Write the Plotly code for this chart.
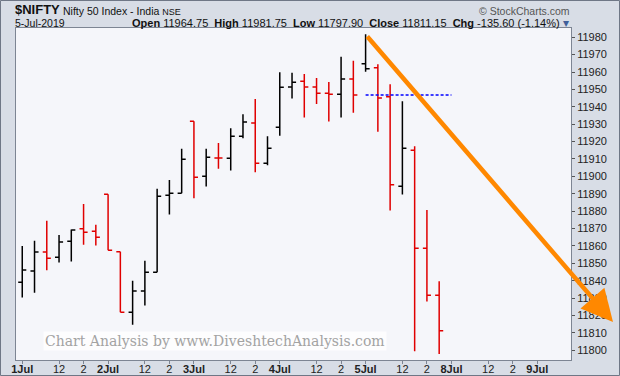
import plotly.graph_objects as go

# ---- data (hourly bars, NIFTY 1-5 Jul 2019) ----
days = ["1Jul", "2Jul", "3Jul", "4Jul", "5Jul", "8Jul", "9Jul"]
hours = ["09:15", "10:15", "11:15", "12:15", "13:15", "14:15", "15:15"]
hour_labels = {3: "12", 5: "2"}

opens = [11839.1, 11845.6, 11856.5, 11853.5, 11862.7, 11869.8, 11868.4,
         11889.7, 11856.7, 11821.9, 11834.1, 11844.9, 11889.1, 11890.3,
         11931.7, 11900.1, 11910.6, 11910.4, 11923.1, 11930.7, 11907.5,
         11928.2, 11951.4, 11954.7, 11951.4, 11947.8, 11947.2, 11956.0,
         11964.75, 11962.5, 11945.7, 11894.3, 11915.0, 11858.7, 11831.6]
highs = [11860.0, 11862.9, 11874.4, 11866.3, 11869.4, 11884.1, 11872.1,
         11889.7, 11856.7, 11839.9, 11851.4, 11892.8, 11897.9, 11915.8,
         11931.7, 11915.8, 11919.2, 11927.7, 11935.7, 11944.5, 11923.1,
         11959.9, 11959.5, 11958.9, 11956.6, 11954.3, 11968.7, 11966.4,
         11981.75, 11964.5, 11953.0, 11943.2, 11917.3, 11880.7, 11839.7]
lows = [11830.3, 11833.1, 11846.0, 11850.4, 11851.0, 11860.7, 11860.2,
        11857.5, 11821.9, 11814.6, 11825.7, 11844.9, 11878.0, 11890.3,
        11887.4, 11894.1, 11904.4, 11903.3, 11921.9, 11902.4, 11906.4,
        11923.4, 11944.7, 11933.8, 11941.6, 11931.5, 11933.8, 11936.6,
        11960.2, 11925.7, 11880.3, 11889.5, 11799.4, 11828.0, 11797.9]
closes = [11846.2, 11856.5, 11852.9, 11862.3, 11869.2, 11867.9, 11865.0,
          11857.5, 11821.9, 11834.1, 11844.9, 11888.6, 11890.3, 11909.8,
          11899.5, 11911.0, 11910.5, 11923.1, 11931.3, 11907.5, 11916.2,
          11951.2, 11954.1, 11951.4, 11947.8, 11947.2, 11956.0, 11946.75,
          11961.9, 11945.1, 11895.2, 11916.2, 11858.7, 11831.6, 11811.15]
prev_day_close = 11946.75

n = len(closes)
xs = list(range(n))
is_down = [False] + [closes[i] < closes[i - 1] for i in range(1, n)]

BLACK = "#000000"
RED = "#e00000"

fig = go.Figure()
for down, col in [(False, BLACK), (True, RED)]:
    idx = [i for i in xs if is_down[i] == down]
    fig.add_trace(go.Ohlc(
        x=idx,
        open=[opens[i] for i in idx], high=[highs[i] for i in idx],
        low=[lows[i] for i in idx], close=[closes[i] for i in idx],
        increasing=dict(line=dict(color=col, width=1.5)),
        decreasing=dict(line=dict(color=col, width=1.5)),
        tickwidth=0.33, showlegend=False, hoverinfo="skip",
    ))

# ticks
tickvals, ticktext = [], []
for d, name in enumerate(days):
    tickvals.append(d * 7)
    ticktext.append("<b>%s</b>" % name)
    for h, lab in hour_labels.items():
        tickvals.append(d * 7 + h)
        ticktext.append(lab)

W, H = 620, 376
L, R, T, B = 16, 49, 28, 16
pw, ph = W - L - R, H - T - B


def px(x):
    return (x - L) / pw


def py(y):
    return (H - B - y) / ph


FONT = "Liberation Sans, Arial, sans-serif"

fig.update_layout(
    width=W, height=H,
    margin=dict(l=L, r=R, t=T, b=B, autoexpand=False),
    paper_bgcolor="#d8dde6",
    plot_bgcolor="#f5f6fa",
    font=dict(family=FONT, size=11, color="#222222"),
    xaxis=dict(
        range=[-0.51, 44.75], tickvals=tickvals, ticktext=ticktext,
        showgrid=False, zeroline=False, showline=True, mirror=True,
        linecolor="#7d8593", linewidth=1, ticks="outside", ticklen=3,
        tickcolor="#7d8593", rangeslider=dict(visible=False),
        tickfont=dict(size=11, color="#222222"), automargin=False,
        ticklabelstandoff=-4,
    ),
    yaxis=dict(
        side="right", range=[11794.4, 11985.3], tick0=11800, dtick=10,
        tickformat="d",
        showgrid=False, zeroline=False, showline=True, mirror=True,
        linecolor="#7d8593", linewidth=1, ticks="outside", ticklen=3,
        tickcolor="#555555", tickfont=dict(size=11, color="#222222"),
        automargin=False,
    ),
)

# previous close dashed line
fig.add_shape(type="line", xref="x", yref="y", x0=28, x1=35,
              y0=prev_day_close, y1=prev_day_close,
              line=dict(color="#0000ff", width=1.5, dash="3px,2px"))

# outer border
fig.add_shape(type="rect", xref="paper", yref="paper",
              x0=px(0.5), x1=px(W - 0.5), y0=py(H - 0.5), y1=py(0.5),
              line=dict(color="#6f7786", width=1), layer="below")

# orange trend arrow
tip_x, tip_y = 613, 322
tail_x, tail_y = 366, 35
fig.add_annotation(x=px(tip_x), y=py(tip_y), xref="paper", yref="paper",
                   ax=tail_x - tip_x, ay=tail_y - tip_y, axref="pixel", ayref="pixel",
                   text="", showarrow=True, arrowhead=2, arrowsize=1.4,
                   arrowwidth=4.5, arrowcolor="#ff8800")

# watermark
fig.add_annotation(x=px(215), y=py(341), xref="paper", yref="paper",
                   xanchor="center", yanchor="middle",
                   text="Chart Analysis by www.DiveshtechAnalysis.com",
                   showarrow=False, font=dict(family="DejaVu Serif", size=14, color="#a3a3a3"),
                   bgcolor="rgba(255,255,255,0.75)", borderpad=1)

# header
hdr_kw = dict(xref="paper", yref="paper", yanchor="middle", showarrow=False, borderpad=0)
fig.add_annotation(x=px(14), y=py(10), xanchor="left",
                   text="<b>$NIFTY</b>", font=dict(size=13, color="#111111"), **hdr_kw)
fig.add_annotation(x=px(62), y=py(11), xanchor="left",
                   text="Nifty 50 Index - India <span style='font-size:9px'>NSE</span>",
                   font=dict(size=10.5, color="#111111"), **hdr_kw)
fig.add_annotation(x=px(571), y=py(11), xanchor="right",
                   text="© StockCharts.com", font=dict(size=10.5, color="#555555"), **hdr_kw)
fig.add_annotation(x=px(14), y=py(23), xanchor="left",
                   text="5-Jul-2019", font=dict(size=10.5, color="#111111"), **hdr_kw)
hdr = ("<b>Open</b> %.2f  <b>High</b> %.2f  <b>Low</b> %.2f  <b>Close</b> %.2f  "
       "<b>Chg</b> %.2f (%.2f%%)") % (
    opens[28], max(highs[28:]), min(lows[28:]), closes[-1],
    closes[-1] - prev_day_close, (closes[-1] - prev_day_close) / prev_day_close * 100)
fig.add_annotation(x=px(561), y=py(23), xanchor="right", text=hdr,
                   font=dict(size=11, color="#111111"), **hdr_kw)
fig.add_annotation(x=px(562), y=py(23), xanchor="left", text="▾",
                   font=dict(size=12, color="#3f5f9a"), **hdr_kw)

fig.write_html("out.html")
